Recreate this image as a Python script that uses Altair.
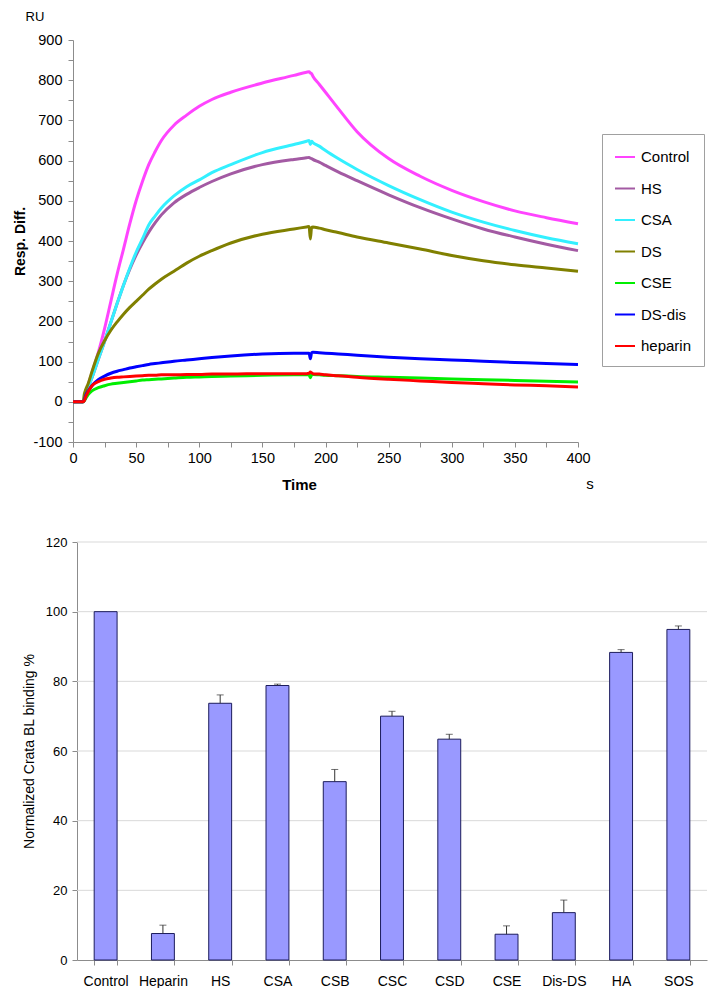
import altair as alt
import pandas as pd

FONT = "Liberation Sans"

# ---------------- top panel: sensorgram (Resp. Diff. vs Time) ----------------
times = [0, 8, 9, 10, 12, 15, 20, 25, 30, 35, 40, 45, 50, 55, 60, 65, 70, 80, 90, 100,
         110, 125, 150, 175, 185, 187, 188, 189, 190, 195, 200, 210, 225, 250, 275, 300,
         325, 350, 375, 400]

control = [0, 0, 5, 20, 42, 72, 122, 182, 250, 318, 380, 443, 500, 548, 590, 622, 650, 688, 713, 735,
           752, 770, 793, 812, 820, 821, 818, 816, 810, 790, 770, 730, 672, 605, 561, 526,
           498, 475, 458, 443]
hs = [0, 0, 3, 18, 35, 60, 105, 150, 198, 245, 290, 330, 365, 395, 422, 445, 465, 495, 516, 533,
      548, 567, 590, 603, 607, 608, 606, 605, 603, 596, 588, 572, 550, 515, 483, 455,
      430, 410, 392, 376]
csa = [0, 0, 3, 18, 35, 60, 105, 150, 198, 245, 290, 333, 372, 405, 440, 462, 482, 512, 535, 552,
       570, 590, 620, 640, 648, 650, 640, 648, 645, 636, 625, 605, 578, 538, 503, 472,
       447, 426, 408, 393]
ds = [0, 0, 20, 30, 45, 75, 120, 152, 178, 199, 218, 235, 250, 265, 280, 293, 305, 325, 345, 362,
      376, 395, 417, 430, 435, 436, 405, 434, 435, 432, 428, 421, 410, 395, 380, 364,
      351, 341, 333, 325]
cse = [0, 0, 3, 8, 18, 27, 35, 40, 44, 46, 48, 50, 52, 54, 55, 56, 57, 59, 61, 62,
       63, 64, 66, 67, 67, 67, 60, 67, 68, 67, 66, 65, 63, 61, 59, 57,
       55, 53, 51, 49]
ds_dis = [0, 0, 5, 15, 27, 40, 55, 64, 71, 76, 80, 84, 87, 90, 93, 95, 97, 101, 104, 107,
          110, 114, 119, 121, 121, 121, 107, 122, 123, 122, 121, 119, 116, 111, 107, 104,
          101, 98, 95, 93]
heparin = [0, 0, 3, 12, 25, 40, 50, 56, 59, 61, 62, 63, 64, 65, 66, 66, 67, 67, 68, 68,
           69, 69, 70, 70, 70, 71, 74, 72, 70, 69, 67, 65, 61, 56, 52, 48,
           45, 42, 40, 37]

series_names = ["Control", "HS", "CSA", "DS", "CSE", "DS-dis", "heparin"]
series_colors = ["#FF44FF", "#A35AA3", "#33F0FF", "#808000", "#00EE00", "#0000FF", "#FF0000"]
series_values = [control, hs, csa, ds, cse, ds_dis, heparin]

x_ticks = list(range(0, 401, 25))
y_ticks = list(range(-100, 901, 50))

# ---------------- bottom panel: normalized binding bars ----------------
categories = ["Control", "Heparin", "HS", "CSA", "CSB", "CSC", "CSD", "CSE", "Dis-DS", "HA", "SOS"]
binding = [100, 7.6, 73.7, 78.8, 51.2, 70.0, 63.4, 7.4, 13.6, 88.3, 94.9]
errors = [0, 2.4, 2.4, 0.4, 3.5, 1.4, 1.4, 2.4, 3.6, 0.8, 1.0]
bar_ticks = [0, 20, 40, 60, 80, 100, 120]

# ---------------- build tables ----------------
rows = []
for name, vals in zip(series_names, series_values):
    for t, v in zip(times, vals):
        rows.append({"series": name, "time": t, "resp": v})
lines_df = pd.DataFrame(rows)

bar_df = pd.DataFrame({"cat": categories, "val": binding, "err": errors})
bar_df["top"] = bar_df["val"] + bar_df["err"]
grid_df = pd.DataFrame({"v": bar_ticks[1:]})

GREY = "#8c8c8c"

lines = alt.Chart(lines_df).mark_line(strokeWidth=3, strokeJoin="round", interpolate="monotone").encode(
    x=alt.X(
        "time:Q",
        scale=alt.Scale(domain=[0, 400], nice=False, zero=False),
        axis=alt.Axis(
            values=x_ticks,
            labelExpr="datum.value % 50 == 0 ? datum.value + '' : ''",
            labelFlush=False, labelOverlap=False,
            labelFontSize=14.5, labelFont=FONT, labelColor="black", labelPadding=4,
            tickSize=5, tickColor=GREY, domainColor=GREY, grid=False,
            title="Time", titleFont=FONT, titleFontSize=15, titleFontWeight="bold",
            titleColor="black", titleX=226, titleY=47, titleAlign="center",
            titleBaseline="alphabetic",
        ),
    ),
    y=alt.Y(
        "resp:Q",
        scale=alt.Scale(domain=[-100, 900], nice=False, zero=False),
        axis=alt.Axis(
            values=y_ticks,
            labelExpr="datum.value % 100 == 0 ? datum.value + '' : ''",
            labelFlush=False, labelOverlap=False,
            labelFontSize=14.5, labelFont=FONT, labelColor="black", labelPadding=6,
            tickSize=5, tickColor=GREY, domainColor=GREY, grid=False,
            title="Resp. Diff.", titleFont=FONT, titleFontSize=14, titleFontWeight="bold",
            titleColor="black", titlePadding=5,
        ),
    ),
    color=alt.Color(
        "series:N",
        scale=alt.Scale(domain=series_names, range=series_colors),
        legend=alt.Legend(
            title=None, orient="none", legendX=529, legendY=94,
            symbolType="stroke", symbolSize=400, symbolStrokeWidth=2,
            labelFontSize=15, labelFont=FONT, labelColor="black", labelOffset=5,
            rowPadding=12.5, padding=12, strokeColor="#A0A0A0", fillColor="white",
        ),
    ),
)

ru_text = alt.Chart(pd.DataFrame({"t": ["RU"]})).mark_text(
    font=FONT, fontSize=13, color="black", align="center", baseline="middle"
).encode(x=alt.value(-38), y=alt.value(-23), text="t:N")

s_text = alt.Chart(pd.DataFrame({"t": ["s"]})).mark_text(
    font=FONT, fontSize=15, color="black", align="center", baseline="alphabetic"
).encode(x=alt.value(517), y=alt.value(449), text="t:N")

top_spacer = alt.Chart(pd.DataFrame({"a": [0]})).mark_rule(color="white", strokeWidth=1).encode(
    x=alt.value(-64), x2=alt.value(-64), y=alt.value(-31), y2=alt.value(-30)
)

top = alt.layer(lines, ru_text, s_text, top_spacer).properties(width=505, height=402)

# bottom panel: plot group starts 4px left of the drawn axis so both panels share one origin
YTITLE = "Normalized Crata BL binding %"
BW = 634
x_bar = alt.X(
    "cat:N", sort=categories,
    scale=alt.Scale(range=[4, BW], paddingInner=0.6, paddingOuter=0.3),
    axis=alt.Axis(
        title=None, labelAngle=0, tickBand="extent", tickSize=5, tickColor=GREY,
        domainColor=GREY, labelFontSize=14, labelFont=FONT, labelColor="black",
        labelPadding=9, grid=False,
    ),
)
gridlines = alt.Chart(grid_df).mark_rule(color="#D9D9D9", strokeWidth=1).encode(
    y=alt.Y("v:Q", title=YTITLE),
    x=alt.value(4), x2=alt.value(BW),
)
bars = alt.Chart(bar_df).mark_bar(color="#9999FF", stroke="#1c1c5c", strokeWidth=1).encode(
    x=x_bar,
    y=alt.Y(
        "val:Q", title=YTITLE,
        scale=alt.Scale(domain=[0, 120], nice=False),
        axis=alt.Axis(
            values=bar_ticks, grid=False, offset=-4, tickSize=5, tickColor=GREY,
            domainColor=GREY, labelFontSize=13, labelFont=FONT, labelColor="black",
            labelPadding=5, titleFont=FONT, titleFontSize=14, titleFontWeight="normal",
            titleColor="black", titlePadding=9,
        ),
    ),
)
err_rule = alt.Chart(bar_df).transform_filter("datum.err > 0").mark_rule(
    color="#333333", strokeWidth=1
).encode(
    x=alt.X("cat:N", sort=categories),
    y=alt.Y("val:Q", title=YTITLE),
    y2="top:Q",
)
err_cap = alt.Chart(bar_df).transform_filter("datum.err > 0").mark_tick(
    color="#333333", thickness=1, size=7
).encode(
    x=alt.X("cat:N", sort=categories),
    y=alt.Y("top:Q", title=YTITLE),
)
spacer = alt.Chart(pd.DataFrame({"a": [0]})).mark_rule(color="white", strokeWidth=1).encode(
    x=alt.value(-64), x2=alt.value(-64), y=alt.value(0), y2=alt.value(1)
)

bottom = alt.layer(gridlines, bars, err_rule, err_cap, spacer).properties(width=BW, height=418)

chart = (
    alt.concat(top, bottom, columns=1, align="none", spacing=44)
    .properties(padding=0)
    .configure(font=FONT)
    .configure_view(strokeWidth=0)
)

chart.save("out.html", embed_options={"renderer": "svg", "actions": False})
